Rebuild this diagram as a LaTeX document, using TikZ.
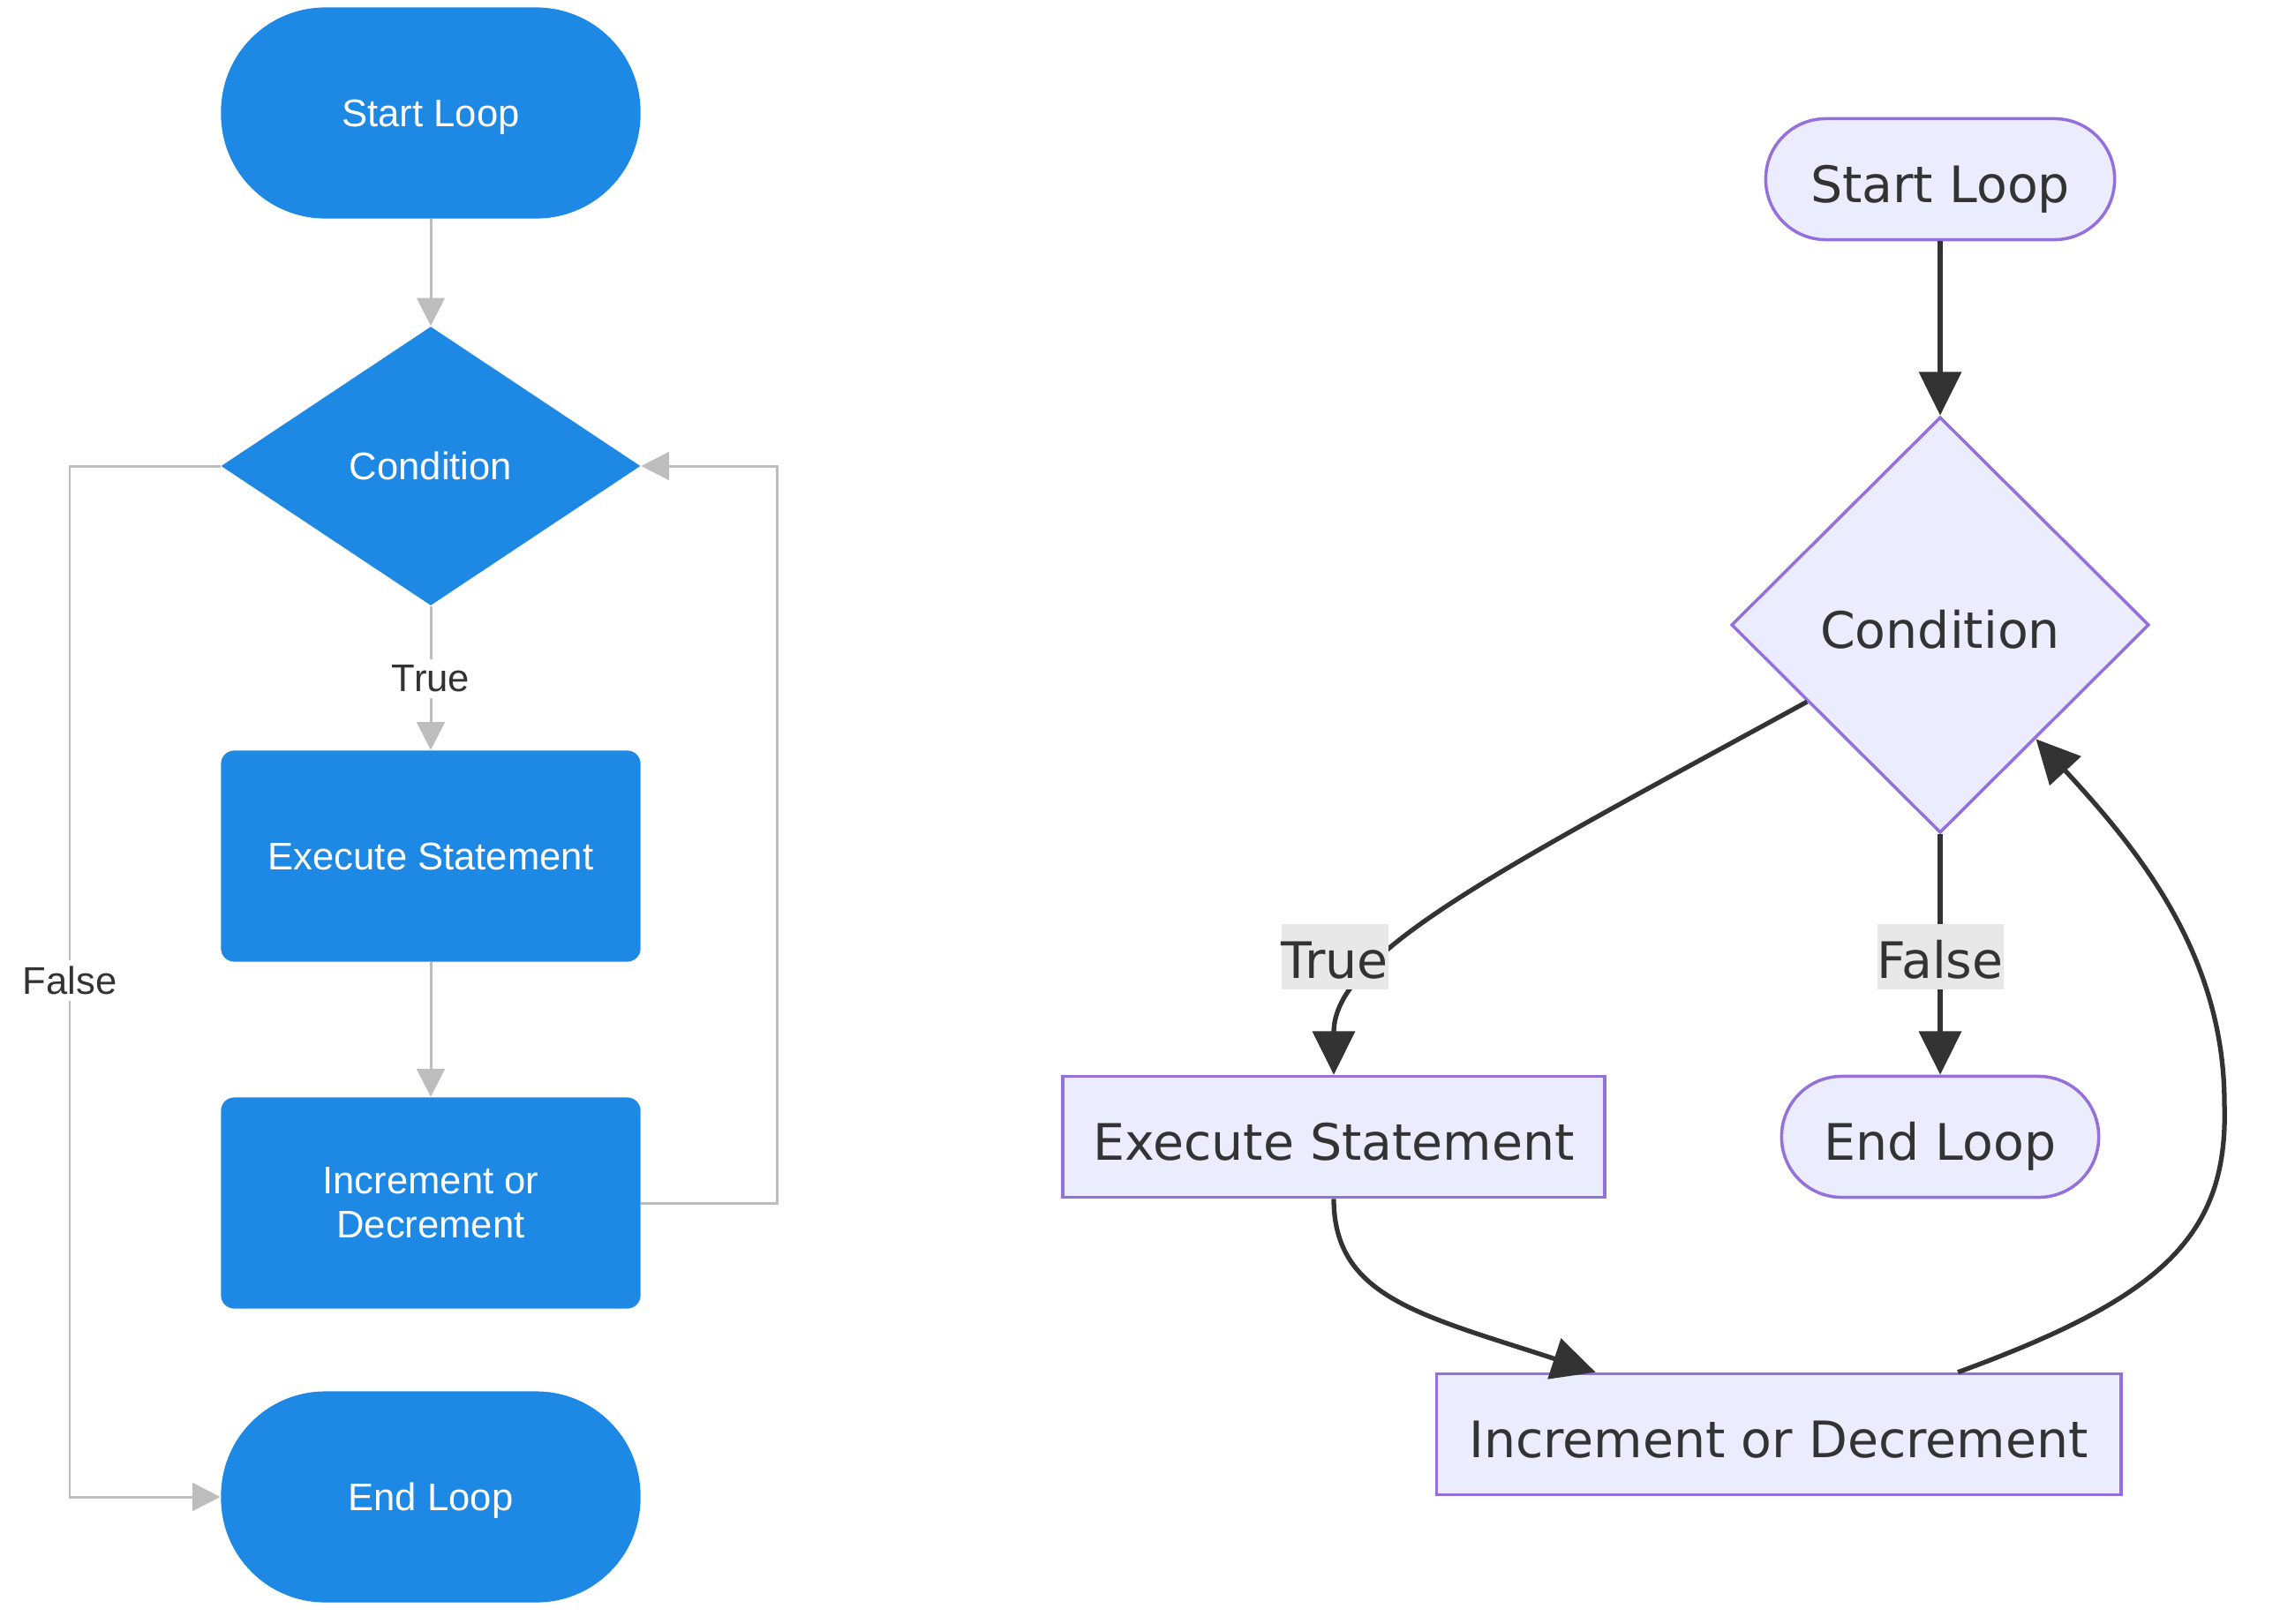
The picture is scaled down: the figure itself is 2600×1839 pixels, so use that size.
\documentclass[tikz,border=0pt]{standalone}
\usepackage{fontspec}
\setmainfont{Liberation Sans}
\newfontfamily\mfont{DejaVu Sans}
\usetikzlibrary{arrows.meta,shapes.geometric}
\definecolor{lblue}{HTML}{1E88E5}
\definecolor{lgray}{HTML}{BDBDBD}
\definecolor{mfill}{HTML}{ECECFF}
\definecolor{mstroke}{HTML}{9370DB}
\definecolor{mtext}{HTML}{333333}
\definecolor{mlabbg}{HTML}{E8E8E8}
\tikzset{
  lfont/.style={font=\fontsize{12.4}{14.3}\selectfont},
  lnode/.style={lfont, fill=lblue, text=white, inner sep=0pt, minimum width=4.75cm, minimum height=2.39cm, align=center},
  lterm/.style={lnode, rounded corners=1.18cm, text depth=0pt},
  lproc/.style={lnode, rounded corners=0.15cm},
  ldec/.style={lnode, diamond, minimum width=4.75cm, minimum height=3.16cm},
  lline/.style={draw=lgray, line width=0.85pt},
  larrow/.style={lline, -{Triangle[length=9pt,width=9pt]}},
  llab/.style={lfont, fill=white, text=mtext, inner sep=2pt},
  mfontsty/.style={font=\mfont\fontsize{16.2}{19}\selectfont},
  mnode/.style={mfontsty, fill=mfill, draw=mstroke, line width=1pt, text=mtext, inner sep=0pt, minimum height=1.37cm, text height=15.2pt, text depth=0pt},
  mterm/.style={mnode, rounded corners=0.68cm},
  mproc/.style={mnode},
  mdec/.style={mnode, diamond, minimum width=4.73cm, minimum height=4.71cm},
  marrow/.style={draw=mtext, line width=1.5pt, -{Triangle[length=14pt,width=13.5pt]}},
  mlab/.style={mfontsty, fill=mlabbg, text=mtext, inner xsep=0pt, inner ysep=0pt, minimum height=0.74cm, text height=14pt, text depth=0pt}
}
\begin{document}
\begin{tikzpicture}[x=0.01cm,y=-0.01cm]
\useasboundingbox (0,0) rectangle (2600,1839);
% ---------- left flowchart ----------
\node[lterm] (lstart) at (488,128) {Start Loop};
\node[ldec]  (lcond)  at (488,528) {Condition};
\node[lproc] (lexec)  at (488,970) {Execute Statement};
\node[lproc] (linc)   at (488,1363) {Increment or\\Decrement};
\node[lterm] (lend)   at (488,1696) {End Loop};
\coordinate (fa) at (79,528);
\coordinate (fb) at (79,1696);
\coordinate (ra) at (880,1363);
\coordinate (rb) at (880,528);
\draw[larrow] (lstart.south) -- (lcond.north);
\draw[larrow] (lcond.south) -- (lexec.north);
\draw[larrow] (lexec.south) -- (linc.north);
\draw[larrow] (lcond.west) -- (fa) -- (fb) -- (lend.west);
\draw[larrow] (linc.east) -- (ra) -- (rb) -- (lcond.east);
\node[llab] (ltrue) at (488,769) {True};
\node[llab] (lfalse) at (79,1111) {False};
% ---------- right flowchart ----------
\node[mterm, minimum width=3.95cm] (rstart) at (2198,203) {Start Loop};
\node[mdec] (rcond) at (2198,708) {Condition};
\node[mproc, minimum width=6.14cm] (rexec) at (1511,1288) {Execute Statement};
\node[mterm, minimum width=3.59cm] (rend) at (2198,1288) {End Loop};
\node[mproc, minimum width=7.75cm] (rinc) at (2015,1625) {Increment or Decrement};
\draw[marrow] (rstart.south) -- (rcond.north);
\draw[marrow] (rcond.210) .. controls (1700,985) and (1511,1080) .. (rexec.north);
\draw[marrow] (rcond.south) -- (rend.north);
\draw[marrow] (rexec.south) .. controls (1511,1470) and (1610,1490) .. ([xshift=1.82cm]rinc.north west);
\draw[marrow] ([xshift=2.03cm]rinc.north) .. controls (2450,1470) and (2525,1400) .. (2520,1250) .. controls (2520,1080) and (2420,960) .. (rcond.310);
\node[mlab] (rtrue) at (1512,1084) {True};
\node[mlab] (rfalse) at (2198,1084) {False};
\end{tikzpicture}
\end{document}
